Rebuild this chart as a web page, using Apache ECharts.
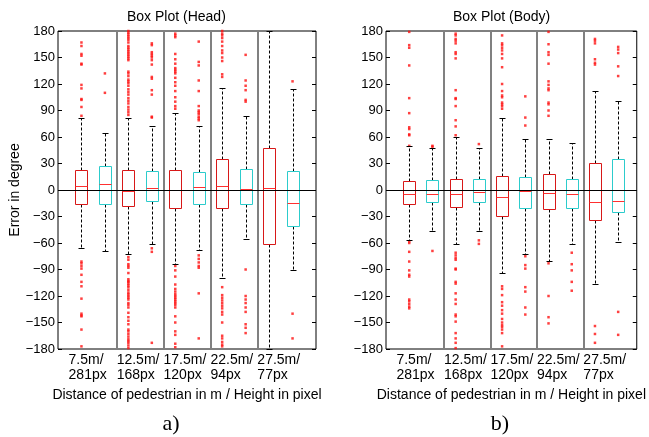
<!DOCTYPE html>
<html>
<head>
<meta charset="utf-8">
<script src="https://cdn.jsdelivr.net/npm/echarts@6/dist/echarts.min.js"></script>
<style>
html,body{margin:0;padding:0;background:#fff;}
#chart{width:649px;height:437px;}
</style>
</head>
<body>
<div id="chart"></div>
<script>
// ---------------- DATA ----------------
const groups = ['7.5m/\n281px', '12.5m/\n168px', '17.5m/\n120px', '22.5m/\n94px', '27.5m/\n77px'];
const yTicks = [-180, -150, -120, -90, -60, -30, 0, 30, 60, 90, 120, 150, 180];

// box stats: [lower whisker, Q1, median, Q3, upper whisker]
const headRed = [
  [-66, -16, 4, 23, 82],
  [-72, -18, -1, 22.5, 81],
  [-84, -20, 0.5, 23, 87],
  [-100, -20, 4, 35, 115],
  [-180, -61, 2, 47, 180]
];
const headCyan = [
  [-69, -16, 7, 27, 64],
  [-61, -12.5, 2, 22, 73],
  [-68, -16, 3, 20, 73],
  [-56, -16, 1, 24, 84],
  [-90, -41, -15, 22, 114]
];
const headRedOut = [
  [167,163,154,152,143,142,119,115,103,102,94,84,-81,-83,-86,-89,-96,-104,-109,-123,-140,-142,-143,-158,-177],
  [180,178,176,174,172,170,167,163,161,159,157,155,153,151,149,147,134,132,129,125,123,121,118,114,111,108,104,101,98,94,91,88,85,
   -76,-79,-84,-86,-88,-94,-101,-103,-104,-106,-108,-110,-113,-116,-118,-120,-122,-124,-128,-130,-133,-139,-144,-148,-152,-158,-160,-163,-166,-169,-171,-173,-176,-179],
  [177,175,173,154,148,143,138,136,134,132,127,122,118,112,105,100,95,92,
   -86,-91,-98,-107,-112,-115,-118,-120,-122,-124,-126,-128,-130,-133,-143,-150,-160,-164,-174,-178],
  [180,177,175,172,168,163,158,155,150,146,131,128,
   -110,-119,-122,-125,-128,-131,-134,-138,-141,-150,-165,-168,-172,-175,-177],
  []
];
const headCyanOut = [
  [132,110],
  [166,164,156,154,152,150,147,142,128,126,113,108,83,82,-66,-70,-173],
  [168,145,141,124,112,95,90,88,86,83,81,79,-74,-78,-82,-86,-88,-117,-168],
  [153,124,118,113,102,100,-90,-120,-124,-128,-133,-138,-152,-156,-162],
  [123,-140,-168]
];

const bodyRed = [
  [-57, -16, -4, 10, 50],
  [-61, -19, -4, 13, 60],
  [-94, -29, -7.5, 16, 82],
  [-80, -21, -3.5, 18, 58],
  [-106, -34, -14, 31, 112]
];
const bodyCyan = [
  [-46, -14, -4, 11, 48],
  [-46, -14, -2.5, 12, 48],
  [-72, -20, -1.5, 15, 58],
  [-61, -20, -5, 13, 53],
  [-59, -24.5, -12, 35, 101]
];
const bodyRedOut = [
  [179,164,161,141,104,87,71,69,63,62,50,-58,-60,-70,-81,-91,-96,-98,-124,-126,-129,-132,-134],
  [177,175,171,169,166,156,154,149,113,104,103,95,79,72,62,-71,-74,-77,-79,-89,-90,-104,-106,-117,-124,-129,-141,-143,-149,-162,-168,-173,-179],
  [175,166,164,161,158,154,149,139,120,112,107,105,99,97,95,92,-109,-112,-119,-127,-131,-136,-140,-146,-150,-153,-155,-158,-162,-177],
  [179,165,156,153,143,123,119,115,113,99,97,90,84,-83,-120,-144,-151],
  [171,169,166,148,144,142,-154,-163,-173]
];
const bodyCyanOut = [
  [50,49,-69],
  [52,-57,-61],
  [106,82,73,-75,-85,-89,-110,-115,-133,-141],
  [-71,-84,-91,-104,-114],
  [162,159,155,140,129,-138,-164]
];

// ---------------- CHART ----------------
const RED = '#d81818';
const CYAN = '#2ccccc';
const MED = '#ff3030';
const OUT = '#ff1010';

function boxData(stats, offset) {
  return stats.map((b, i) => [2 * i + offset].concat(b));
}
function outData(outs, offset) {
  const res = [];
  outs.forEach((arr, i) => arr.forEach(v => res.push([2 * i + offset, v])));
  return res;
}
function boxRenderer(stroke) {
  return function (params, api) {
    const x = api.value(0);
    const lo = api.value(1), q1 = api.value(2), md = api.value(3), q3 = api.value(4), hi = api.value(5);
    const cx = Math.round(api.coord([x, 0])[0]) + 0.5;
    const yy = v => Math.round(api.coord([x, v])[1]) + 0.5;
    const half = Math.round(api.size([1, 0])[0] * 0.26);
    const cap = Math.round(half / 2);
    const dash = { stroke: '#000', lineWidth: 1, lineDash: [3, 2] };
    const solid = { stroke: '#000', lineWidth: 1 };
    return {
      type: 'group',
      children: [
        { type: 'line', shape: { x1: cx, y1: yy(q3), x2: cx, y2: yy(hi) }, style: dash },
        { type: 'line', shape: { x1: cx, y1: yy(q1), x2: cx, y2: yy(lo) }, style: dash },
        { type: 'line', shape: { x1: cx - cap, y1: yy(hi), x2: cx + cap, y2: yy(hi) }, style: solid },
        { type: 'line', shape: { x1: cx - cap, y1: yy(lo), x2: cx + cap, y2: yy(lo) }, style: solid },
        { type: 'rect', shape: { x: cx - half, y: yy(q3), width: 2 * half, height: yy(q1) - yy(q3) },
          style: { fill: 'none', stroke: stroke, lineWidth: 1 } },
        { type: 'line', shape: { x1: cx - half, y1: yy(md), x2: cx + half, y2: yy(md) },
          style: { stroke: MED, lineWidth: 1 } }
      ]
    };
  };
}

const separators = [2.5, 4.5, 6.5, 8.5];
const labelPos = [0.45, 2.5, 4.5, 6.5, 8.5];
const fmtY = v => (v < 0 ? '\u2212' + (-v) : '' + v);
const FONT = '"Liberation Sans", Arial, Helvetica, sans-serif';

function makeX(idx, max) {
  return {
    type: 'value', gridIndex: idx, min: 0, max: max,
    axisLine: { show: false }, axisTick: { show: false }, splitLine: { show: false },
    axisLabel: {
      customValues: labelPos,
      formatter: v => groups[Math.max(0, Math.round((v - 0.5) / 2))],
      align: 'left', color: '#000', fontSize: 14, lineHeight: 15, margin: 4, fontFamily: FONT
    },
    name: 'Distance of pedestrian in m / Height in pixel',
    nameLocation: 'middle', nameGap: 33,
    nameTextStyle: { color: '#000', fontSize: 14, fontFamily: FONT }
  };
}
function makeY(idx, pos, withLabels, name) {
  return {
    type: 'value', gridIndex: idx, position: pos, min: -180, max: 180, interval: 30,
    axisLine: { show: false }, splitLine: { show: false },
    axisTick: { show: true, inside: true, length: 4, lineStyle: { color: '#000' } },
    axisLabel: { show: withLabels, color: '#000', fontSize: 13, margin: 3, formatter: fmtY, fontFamily: FONT,
      customValues: yTicks },
    name: name || '', nameLocation: 'middle', nameGap: 36,
    nameTextStyle: { color: '#000', fontSize: 14, fontFamily: FONT }
  };
}
function markLines() {
  return {
    silent: true, symbol: ['none', 'none'], label: { show: false }, animation: false,
    data: separators.map(s => ({ xAxis: s, lineStyle: { color: '#808080', width: 2, type: 'solid' } }))
      .concat([{ yAxis: 0, lineStyle: { color: '#000', width: 1, type: 'solid' } }])
  };
}
function panelSeries(idx, red, cyan, redOut, cyanOut) {
  const xi = idx, yi = idx * 2;
  return [
    { type: 'scatter', xAxisIndex: xi, yAxisIndex: yi, data: outData(redOut, 1).concat(outData(cyanOut, 2)),
      symbol: 'rect', symbolSize: 2.5, itemStyle: { color: OUT }, silent: true, z: 3, markLine: markLines() },
    { type: 'custom', xAxisIndex: xi, yAxisIndex: yi, data: boxData(red, 1), renderItem: boxRenderer(RED),
      encode: { x: 0, y: [1, 2, 3, 4, 5] }, silent: true, z: 4 },
    { type: 'custom', xAxisIndex: xi, yAxisIndex: yi, data: boxData(cyan, 2), renderItem: boxRenderer(CYAN),
      encode: { x: 0, y: [1, 2, 3, 4, 5] }, silent: true, z: 4 }
  ];
}

const chart = echarts.init(document.getElementById('chart'), null, { renderer: 'canvas' });
chart.setOption({
  animation: false,
  backgroundColor: '#fff',
  textStyle: { fontFamily: FONT },
  grid: [
    { left: 58, width: 258, top: 31, height: 318, show: true, borderColor: '#000', borderWidth: 1, backgroundColor: 'transparent' },
    { left: 386, width: 254, top: 31, height: 318, show: true, borderColor: '#000', borderWidth: 1, backgroundColor: 'transparent' }
  ],
  xAxis: [makeX(0, 11), makeX(1, 10.8)],
  yAxis: [makeY(0, 'left', true, 'Error in degree'), makeY(0, 'right', false), makeY(1, 'left', true), makeY(1, 'right', false)],
  series: panelSeries(0, headRed, headCyan, headRedOut, headCyanOut)
    .concat(panelSeries(1, bodyRed, bodyCyan, bodyRedOut, bodyCyanOut)),
  graphic: [
    { type: 'text', left: 187 - 60, top: 10, style: { text: 'Box Plot (Head)', width: 120, align: 'center', fill: '#000', font: '14px ' + FONT } },
    { type: 'text', left: 513 - 60, top: 10, style: { text: 'Box Plot (Body)', width: 120, align: 'center', fill: '#000', font: '14px ' + FONT } },
    { type: 'text', x: 171, y: 424, style: { text: 'a)', align: 'center', verticalAlign: 'middle', fill: '#000', font: '22px "Liberation Serif", "Times New Roman", serif' } },
    { type: 'text', x: 500, y: 424, style: { text: 'b)', align: 'center', verticalAlign: 'middle', fill: '#000', font: '22px "Liberation Serif", "Times New Roman", serif' } }
  ]
});
</script>
</body>
</html>
